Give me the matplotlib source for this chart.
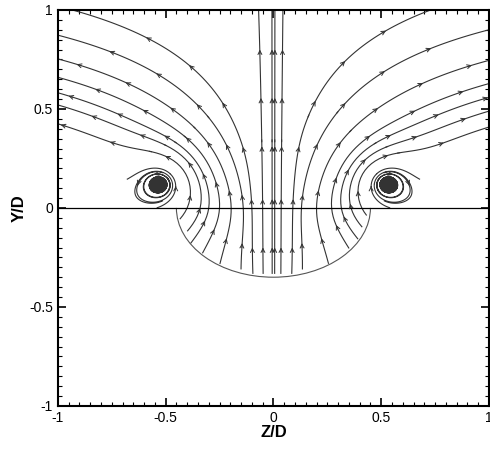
import numpy as np
import matplotlib.pyplot as plt
from matplotlib.patches import Arc

plt.rcParams['font.family'] = ['Liberation Sans', 'DejaVu Sans']
plt.rcParams['axes.unicode_minus'] = False

# vortex pair (counter-rotating), positions in Z/D, Y/D
vort_z = [-0.53, 0.53]
vort_y = [0.12, 0.12]
vort_gamma = [0.8, -0.8]   # + = counter-clockwise
vort_core = 0.012
vort_reach = 0.25

# source below the cut-out feeding the upward flow
src_z = 0.0
src_y = -1.0
src_m = 3.0

# narrow upward jet along the symmetry line
jet_v = 5.0
jet_w = 0.06

# sideways drift: inward inside the cut-out, spreading above the vortices
side_in = 0.7
side_in_y = -0.02
side_w = 0.3
spread = 0.6
spread_y = 0.15

# shape of the lower cut-out (half ellipse below Y/D = 0)
cut_a = 0.45
cut_b = 0.35

# where the streamtraces cross Y/D = 0
seed_z = [-0.47, -0.40, -0.34, -0.30, -0.25, -0.196, -0.14, -0.10, -0.05,
          -0.006, 0.006, 0.036, 0.09, 0.13, 0.20, 0.27, 0.315, 0.36, 0.41,
          0.47]
# traces round the vortex cores (offset from centre along Z)
core_dz = [0.003, 0.006, 0.009, 0.012, 0.015, 0.018, 0.021, 0.024, 0.027,
           0.030, 0.033, 0.036]
ring_dz = [0.05, 0.062, 0.076]


def field(Z, Y):
    U = np.zeros_like(Z)
    V = np.zeros_like(Z)
    for zc, yc, g in zip(vort_z, vort_y, vort_gamma):
        dz = Z - zc
        dy = Y - yc
        r2 = dz**2 + dy**2 + 1e-12
        f = g / (2 * np.pi * r2) * (1 - np.exp(-r2 / vort_core**2))
        f *= np.exp(-r2 / vort_reach**2)
        U += -f * dy
        V += f * dz
    dz = Z - src_z
    dy = Y - src_y
    r2 = dz**2 + dy**2 + 1e-6
    U += src_m / (2 * np.pi) * dz / r2
    V += src_m / (2 * np.pi) * dy / r2
    V += jet_v * np.exp(-(Z / jet_w)**2)
    g = np.sign(Z) * (1 - np.exp(-(Z / side_w)**2))
    inn = 1 / (1 + np.exp((Y - side_in_y) / 0.05))
    out = 1 / (1 + np.exp(-(Y - spread_y) / 0.15))
    U += spread * Z * out - side_in * g * inn
    outside = (Y < 0) & ((Z / cut_a)**2 + (Y / cut_b)**2 > 1)
    return np.ma.array(U, mask=outside), np.ma.array(V, mask=outside)


fig = plt.figure(figsize=(4.9, 4.51), dpi=100)
ax = fig.add_axes([0.118, 0.1, 0.88, 0.878])
line_col = '#333333'


def trace(zg, yg, U, V, p, n_arrows, gap=0.25, maxlength=4.0):
    sp = ax.streamplot(zg, yg, U, V, start_points=[p], color=line_col,
                       linewidth=0.8, arrowstyle='-', arrowsize=0.01,
                       density=3, broken_streamlines=False,
                       integration_direction='both', maxlength=maxlength)
    segs = sp.lines.get_segments()
    if len(segs) == 0 or n_arrows == 0:
        return
    path = np.vstack([segs[0][:1]] + [s[1:] for s in segs])
    step = np.hypot(np.diff(path[:, 0]), np.diff(path[:, 1]))
    s = np.concatenate([[0], np.cumsum(step)])
    for m in np.arange(gap * 0.5, s[-1], gap)[:n_arrows]:
        i = np.searchsorted(s, m)
        if i < 1 or i >= len(path):
            continue
        ax.annotate('', xy=path[i], xytext=path[i - 1],
                    arrowprops=dict(arrowstyle='->', color=line_col, lw=0.7,
                                    mutation_scale=7, shrinkA=0, shrinkB=0))


# main field
z = np.linspace(-1, 1, 401)
y = np.linspace(-1, 1, 401)
Zg, Yg = np.meshgrid(z, y)
U, V = field(Zg, Yg)
for s0 in seed_z:
    trace(z, y, U, V, [s0, 0.0], 6)

# fine grids round each vortex
for zc, yc in zip(vort_z, vort_y):
    zl = np.linspace(zc - 0.15, zc + 0.15, 301)
    yl = np.linspace(yc - 0.12, yc + 0.15, 271)
    Zl, Yl = np.meshgrid(zl, yl)
    Ul, Vl = field(Zl, Yl)
    sgn = 1 if zc < 0 else -1
    for d in core_dz:
        trace(zl, yl, Ul, Vl, [zc + sgn * d, yc], 0, maxlength=3.0)
    for d in ring_dz:
        trace(zl, yl, Ul, Vl, [zc + sgn * d, yc], 1, gap=0.3, maxlength=3.0)

ax.axhline(0, color='k', lw=0.9)
ax.add_patch(Arc((0, 0), 2 * cut_a, 2 * cut_b, theta1=180, theta2=360,
                 color='#555555', lw=0.8))

ax.set_xlim(-1, 1)
ax.set_ylim(-1, 1)
ax.set_xticks([-1, -0.5, 0, 0.5, 1])
ax.set_yticks([-1, -0.5, 0, 0.5, 1])
ax.set_xticklabels(['-1', '-0.5', '0', '0.5', '1'])
ax.set_yticklabels(['-1', '-0.5', '0', '0.5', '1'])
ax.set_xticks(np.arange(-1, 1.001, 0.05), minor=True)
ax.set_yticks(np.arange(-1, 1.001, 0.05), minor=True)
ax.tick_params(which='both', direction='in', top=True, right=True, labelsize=10)
ax.tick_params(which='major', length=6, width=1.2)
ax.tick_params(which='minor', length=3, width=0.8)
for sp_ in ax.spines.values():
    sp_.set_linewidth(1.5)
ax.set_xlabel('Z/D', fontsize=12, fontweight='bold', labelpad=0)
ax.set_ylabel('Y/D', fontsize=12, fontweight='bold', labelpad=2)

fig.savefig('out.png', dpi=100)
